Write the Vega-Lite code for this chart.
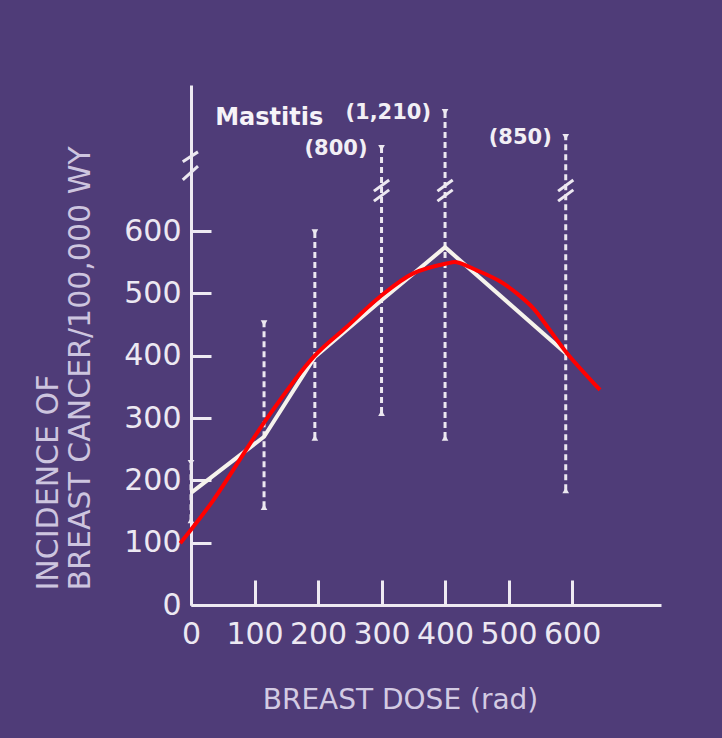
{
  "$schema": "https://vega.github.io/schema/vega-lite/v6.json",
  "width": 470,
  "height": 520,
  "autosize": "none",
  "padding": {"left": 191, "top": 85, "right": 61, "bottom": 133},
  "background": "#4f3c78",
  "config": {"view": {"stroke": null}},
  "datasets": {
    "pts": [
      {"dose": 0, "inc": 180, "lo": 136, "hi": 228, "label": ""},
      {"dose": 115, "inc": 270, "lo": 157, "hi": 452, "label": ""},
      {"dose": 195, "inc": 398, "lo": 268, "hi": 598, "label": ""},
      {"dose": 300, "inc": 489, "lo": 308, "hi": 800, "label": "(800)"},
      {"dose": 400, "inc": 574, "lo": 268, "hi": 1210, "label": "(1,210)"},
      {"dose": 590, "inc": 404, "lo": 184, "hi": 850, "label": "(850)"}
    ],
    "fit": [
      {"dose": -17, "inc": 99}, {"dose": 35, "inc": 168}, {"dose": 114, "inc": 291},
      {"dose": 193, "inc": 398}, {"dose": 245, "inc": 446}, {"dose": 298, "inc": 495},
      {"dose": 350, "inc": 532}, {"dose": 403, "inc": 548}, {"dose": 418, "inc": 550},
      {"dose": 450, "inc": 537}, {"dose": 487, "inc": 519}, {"dose": 513, "inc": 500},
      {"dose": 539, "inc": 476}, {"dose": 565, "inc": 441}, {"dose": 592, "inc": 404},
      {"dose": 644, "inc": 345}
    ],
    "brk": [
      {"x1": -13, "x2": 11, "y1": 711, "y2": 727},
      {"x1": -13, "x2": 11, "y1": 682, "y2": 704},
      {"x1": 288, "x2": 312, "y1": 664, "y2": 682},
      {"x1": 288, "x2": 312, "y1": 648, "y2": 666},
      {"x1": 388, "x2": 412, "y1": 664, "y2": 682},
      {"x1": 388, "x2": 412, "y1": 648, "y2": 666},
      {"x1": 578, "x2": 602, "y1": 664, "y2": 682},
      {"x1": 578, "x2": 602, "y1": 648, "y2": 666}
    ],
    "note": [{"dose": 38, "inc": 1210, "text": "Mastitis"}]
  },
  "layer": [
    {
      "data": {"name": "pts"},
      "mark": {"type": "rule", "color": "#ece8f0", "strokeWidth": 3, "strokeDash": [6, 4]},
      "encoding": {
        "x": {
          "field": "dose", "type": "quantitative",
          "scale": {"domain": [0, 740], "nice": false, "zero": false},
          "axis": {
            "values": [0, 100, 200, 300, 400, 500, 600],
            "grid": false,
            "domainColor": "#eeeaf2", "domainWidth": 3,
            "tickColor": "#eeeaf2", "tickWidth": 3, "tickSize": -25,
            "labelFont": "DejaVu Sans", "labelFontSize": 30, "labelColor": "#ece8f2",
            "labelPadding": 39, "labelOverlap": false, "labelFlush": false, "labelBound": false,
            "title": "BREAST DOSE (rad)",
            "titleFont": "DejaVu Sans", "titleFontSize": 28, "titleFontWeight": "normal",
            "titleColor": "#d3cbe3", "titleX": 209, "titleY": 103,
            "titleAlign": "center", "titleBaseline": "alphabetic"
          }
        },
        "y": {
          "field": "lo", "type": "quantitative",
          "scale": {"domain": [0, 730, 800, 850, 1210, 1400], "range": [520, 65, 63, 52, 27, 0], "nice": false, "zero": false},
          "axis": {
            "values": [0, 100, 200, 300, 400, 500, 600],
            "grid": false,
            "domainColor": "#eeeaf2", "domainWidth": 3,
            "tickColor": "#eeeaf2", "tickWidth": 3, "tickSize": -20,
            "labelFont": "DejaVu Sans", "labelFontSize": 30, "labelColor": "#ece8f2",
            "labelPadding": 30, "labelOverlap": false, "labelFlush": false, "labelBound": false,
            "title": ["INCIDENCE OF", "BREAST CANCER/100,000 WY"],
            "titleFont": "DejaVu Sans", "titleFontSize": 30, "titleFontWeight": "normal",
            "titleColor": "#cdc5df", "titleAngle": -90, "titleAlign": "left", "titleBaseline": "top",
            "titleX": -158, "titleY": 505, "titleLineHeight": 32
          }
        },
        "y2": {"field": "hi"}
      }
    },
    {
      "data": {"name": "pts"},
      "mark": {"type": "point", "shape": "triangle-down", "filled": true, "color": "#ece8f0", "size": 45, "opacity": 1},
      "encoding": {
        "x": {"field": "dose", "type": "quantitative"},
        "y": {"field": "hi", "type": "quantitative"}
      }
    },
    {
      "data": {"name": "pts"},
      "mark": {"type": "point", "shape": "triangle-up", "filled": true, "color": "#ece8f0", "size": 45, "opacity": 1},
      "encoding": {
        "x": {"field": "dose", "type": "quantitative"},
        "y": {"field": "lo", "type": "quantitative"}
      }
    },
    {
      "data": {"name": "brk"},
      "mark": {"type": "rule", "color": "#ece8f0", "strokeWidth": 3},
      "encoding": {
        "x": {"field": "x1", "type": "quantitative"},
        "x2": {"field": "x2"},
        "y": {"field": "y1", "type": "quantitative"},
        "y2": {"field": "y2"}
      }
    },
    {
      "data": {"name": "pts"},
      "mark": {"type": "line", "color": "#f6f3ec", "strokeWidth": 4},
      "encoding": {
        "x": {"field": "dose", "type": "quantitative"},
        "y": {"field": "inc", "type": "quantitative"}
      }
    },
    {
      "data": {"name": "fit"},
      "mark": {"type": "line", "color": "#ff0000", "strokeWidth": 4, "interpolate": "catmull-rom"},
      "encoding": {
        "x": {"field": "dose", "type": "quantitative"},
        "y": {"field": "inc", "type": "quantitative"}
      }
    },
    {
      "data": {"name": "pts"},
      "transform": [{"filter": "datum.label != ''"}],
      "mark": {"type": "text", "font": "DejaVu Sans", "fontSize": 21, "fontWeight": "bold", "color": "#f2eff5", "align": "right", "baseline": "middle", "dx": -14, "dy": 1},
      "encoding": {
        "x": {"field": "dose", "type": "quantitative"},
        "y": {"field": "hi", "type": "quantitative"},
        "text": {"field": "label"}
      }
    },
    {
      "data": {"name": "note"},
      "mark": {"type": "text", "font": "DejaVu Sans", "fontSize": 24, "fontWeight": "bold", "color": "#f6f3f8", "align": "left", "baseline": "middle", "dy": 6},
      "encoding": {
        "x": {"field": "dose", "type": "quantitative"},
        "y": {"field": "inc", "type": "quantitative"},
        "text": {"field": "text"}
      }
    }
  ]
}
